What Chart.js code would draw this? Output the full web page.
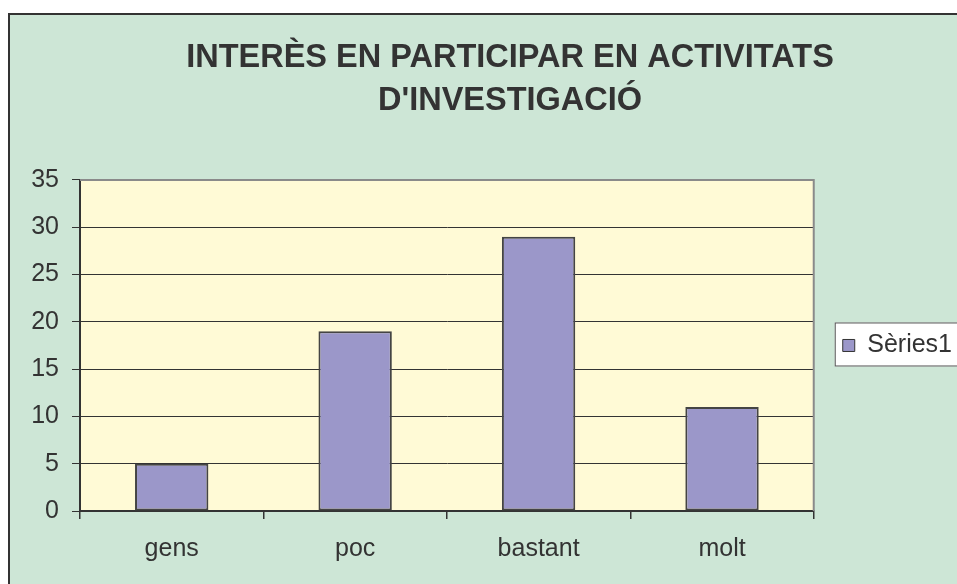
<!DOCTYPE html>
<html>
<head>
<meta charset="utf-8">
<script src="https://cdn.jsdelivr.net/npm/chart.js@4/dist/chart.umd.min.js"></script>
<style>
  html, body { margin: 0; padding: 0; background: #fff; overflow: hidden; }
  canvas { display: block; }
</style>
</head>
<body>
<canvas id="grafic" width="957" height="584"></canvas>
<script>
// dades del gràfic
const categories = ['gens', 'poc', 'bastant', 'molt'];
const nomSerie = 'Sèries1';
const valors = [5, 19, 29, 11];
const titol = ['INTERÈS EN PARTICIPAR EN ACTIVITATS', "D'INVESTIGACIÓ"];
const eixY = { min: 0, max: 35, pas: 5 };

// colors
const verd = '#cde6d6';
const groc = '#fffad6';
const lila = '#9b97c9';
const fosc = '#333333';
const gris = '#8a8a8a';
const lletra = '"Liberation Sans", Arial, sans-serif';

// fons, marc exterior, àrea del gràfic i quadre de la llegenda
const fons = {
    id: 'fons',
    afterLayout(chart) {
        // el títol queda centrat sobre tot el marc (que surt de la finestra)
        const t = chart.titleBlock;
        t.right = 1012;
        t.width = t.right - t.left;
    },
    beforeDraw(chart) {
        const { ctx, width, height, chartArea: a } = chart;
        const pad = chart.options.layout.padding;
        ctx.save();
        ctx.fillStyle = '#fff';
        ctx.fillRect(0, 0, width, height);
        ctx.fillStyle = verd;
        ctx.fillRect(pad.left, pad.top, width, height);
        ctx.strokeStyle = fosc;
        ctx.lineWidth = 2;
        ctx.beginPath();
        ctx.moveTo(pad.left + 1, height);
        ctx.lineTo(pad.left + 1, pad.top + 1);
        ctx.lineTo(width, pad.top + 1);
        ctx.stroke();

        ctx.fillStyle = groc;
        ctx.fillRect(a.left, a.top, a.width, a.height);

        const hb = chart.legend.legendHitBoxes[0];
        if (hb) {
            const x = hb.left - 8, y = hb.top - 10.5;
            ctx.fillStyle = '#fff';
            ctx.fillRect(x, y, width, hb.height + 19);
            ctx.strokeStyle = '#555';
            ctx.lineWidth = 1;
            ctx.strokeRect(x + 0.5, y + 0.5, width, hb.height + 18);
        }
        ctx.restore();
    },
    afterDatasetsDraw(chart) {
        const { ctx, chartArea: a } = chart;
        ctx.save();
        ctx.strokeStyle = gris;
        ctx.lineWidth = 2;
        ctx.beginPath();
        ctx.moveTo(a.left, a.top);
        ctx.lineTo(a.right, a.top);
        ctx.lineTo(a.right, a.bottom);
        ctx.stroke();
        ctx.restore();
    }
};

new Chart(document.getElementById('grafic'), {
    type: 'bar',
    data: {
        labels: categories,
        datasets: [{
            label: nomSerie,
            data: valors,
            backgroundColor: lila,
            borderColor: '#444',
            borderWidth: 2,
            borderSkipped: false,
            barPercentage: 0.4,
            categoryPercentage: 1
        }]
    },
    options: {
        responsive: false,
        animation: false,
        devicePixelRatio: 1,
        layout: { padding: { left: 8, top: 13, right: -5, bottom: 5 } },
        plugins: {
            title: {
                display: true,
                text: titol,
                color: fosc,
                font: { family: lletra, size: 32.5, weight: 'bold', lineHeight: 1.33 },
                padding: { top: 23, bottom: 57.5 }
            },
            legend: {
                position: 'right',
                fullSize: false,
                labels: {
                    color: fosc,
                    font: { family: lletra, size: 25 },
                    boxWidth: 12,
                    boxHeight: 12,
                    padding: 29,
                    generateLabels: (chart) =>
                        Chart.defaults.plugins.legend.labels.generateLabels(chart)
                            .map(l => ({ ...l, lineWidth: 1, strokeStyle: fosc }))
                }
            },
            tooltip: { enabled: false }
        },
        scales: {
            x: {
                offset: true,
                grid: {
                    offset: true,
                    drawOnChartArea: false,
                    drawTicks: true,
                    tickLength: 8,
                    color: fosc,
                    lineWidth: 1.5
                },
                border: { display: true, color: fosc, width: 2 },
                ticks: {
                    color: fosc,
                    font: { family: lletra, size: 25 },
                    padding: 15
                }
            },
            y: {
                min: eixY.min,
                max: eixY.max,
                afterFit(scale) { scale.width = 72; },
                grid: {
                    color: fosc,
                    lineWidth: 1,
                    tickLength: 8
                },
                border: { display: true, color: fosc, width: 2 },
                ticks: {
                    stepSize: eixY.pas,
                    color: fosc,
                    font: { family: lletra, size: 25 },
                    padding: 13
                }
            }
        }
    },
    plugins: [fons]
});
</script>
</body>
</html>
